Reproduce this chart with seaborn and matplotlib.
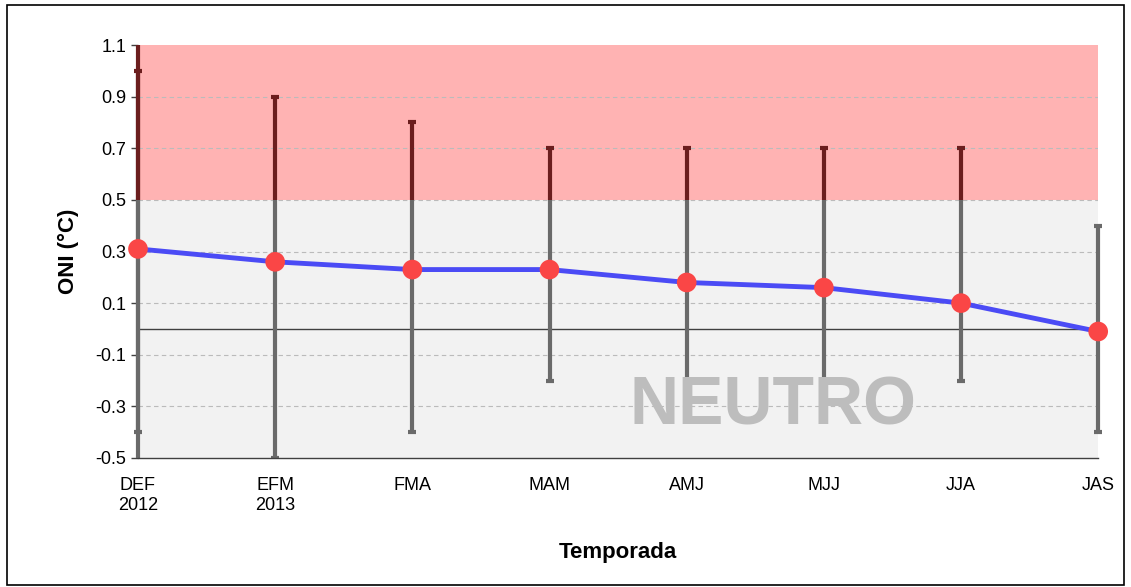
import matplotlib.pyplot as plt
import seaborn as sns
import pandas as pd
from matplotlib.patches import Rectangle

seasons = ["DEF\n2012", "EFM\n2013", "FMA", "MAM", "AMJ", "MJJ", "JJA", "JAS"]
oni = [0.31, 0.26, 0.23, 0.23, 0.18, 0.16, 0.10, -0.01]
upper = [1.0, 0.9, 0.8, 0.7, 0.7, 0.7, 0.7, 0.4]
lower = [-0.4, -0.5, -0.4, -0.2, -0.2, -0.2, -0.2, -0.4]
yticks = [-0.5, -0.3, -0.1, 0.1, 0.3, 0.5, 0.7, 0.9, 1.1]

sns.set_theme(style="white")
plt.rcParams["font.family"] = ["Liberation Sans", "DejaVu Sans"]

df = pd.DataFrame({"pos": range(len(seasons)), "oni": oni,
                   "upper": upper, "lower": lower})

fig = plt.figure(figsize=(11.31, 5.87), dpi=100)
ax = fig.add_axes([0.122, 0.2198, 0.849, 0.7035])
ax.set_xlim(0, 7)
ax.set_ylim(-0.5, 1.1)

# bands
ax.axhspan(-0.5, 0.5, color="#F2F2F2", zorder=0)
ax.axhspan(0.5, 1.1, color="#FFB3B3", lw=0, zorder=0)
for t in yticks[1:-1]:
    ax.axhline(t, color="#BBBBBB", lw=0.8, ls=(0, (4, 3)), zorder=1)
ax.axhline(0, color="#404040", lw=1, zorder=1)

# error bars: grey in the neutral zone, dark red in the warm zone
clip_lo = Rectangle((-0.5, -0.5), 8, 1.0, transform=ax.transData)
clip_hi = Rectangle((-0.5, 0.5), 8, 0.6, transform=ax.transData)
for col, clip in [("#6A6A6A", clip_lo), ("#6B1E1E", clip_hi)]:
    cont = ax.errorbar(df["pos"], df["oni"],
                       yerr=[df["oni"] - df["lower"], df["upper"] - df["oni"]],
                       fmt="none", ecolor=col, elinewidth=3, capsize=3,
                       capthick=3, zorder=1.5)
    arts = list(cont.lines[1]) + list(cont.lines[2])
    # left axis line follows the same colouring
    arts.append(ax.axvline(0, color=col, lw=3, zorder=1.6))
    for art in arts:
        art.set_clip_on(True)
        art.set_clip_path(clip)

sns.lineplot(data=df, x="pos", y="oni", ax=ax, color="#4B4BF5", lw=3.5,
             zorder=3)
sns.scatterplot(data=df, x="pos", y="oni", ax=ax, color="#FA4646", s=200,
                edgecolor="none", zorder=4, clip_on=False)

ax.text(4.63, -0.3, "NEUTRO", fontsize=49, fontweight="bold",
        color="#BDBDBD", ha="center", va="center", zorder=2)

ax.set_yticks(yticks)
ax.set_yticklabels([f"{v:.1f}" for v in yticks], fontsize=13, color="black")
ax.set_xticks(df["pos"])
ax.set_xticklabels(seasons, fontsize=13, color="black")
ax.tick_params(axis="y", left=True, length=5, width=1, color="#404040")
ax.tick_params(axis="x", bottom=False, pad=8)
for lbl in ax.get_xticklabels():
    lbl.set_va("top")
for s in ["top", "right", "left"]:
    ax.spines[s].set_visible(False)
ax.spines["bottom"].set_color("#404040")
ax.spines["bottom"].set_linewidth(1)
ax.spines["bottom"].set_zorder(5)

ax.set_ylabel("ONI (°C)", fontsize=16, fontweight="bold", labelpad=12,
              color="black")
ax.set_xlabel("Temporada", fontsize=16, fontweight="bold", labelpad=20,
              color="black")

fig.patches.append(Rectangle((0.006, 0.004), 0.988, 0.988, transform=fig.transFigure,
                             fill=False, edgecolor="black", lw=1.2))

fig.savefig("out.png", dpi=100)
